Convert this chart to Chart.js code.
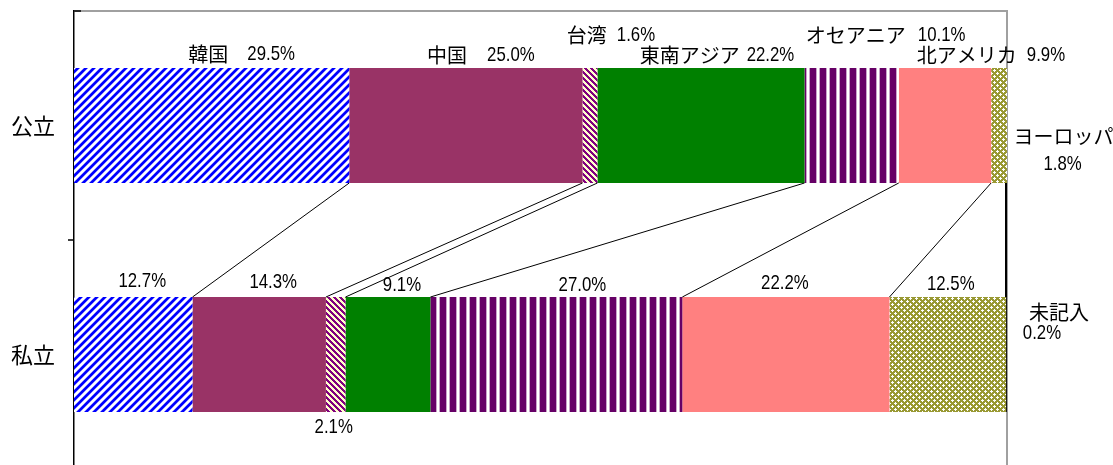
<!DOCTYPE html>
<html>
<head>
<meta charset="utf-8">
<script src="https://cdn.jsdelivr.net/npm/chart.js@4.4.0/dist/chart.umd.min.js"></script>
<style>
  html, body { margin: 0; padding: 0; background: #fff; overflow: hidden; }
  #caixa { width: 1113px; height: 470px; position: relative; }
</style>
</head>
<body>
<div id="caixa"><canvas id="grafico"></canvas></div>
<script>
const escolas = ["公立", "私立"];
const regioes = ["韓国", "中国", "台湾", "東南アジア", "オセアニア", "北アメリカ", "ヨーロッパ", "未記入"];
const koritsu = [29.5, 25.0, 1.6, 22.2, 10.1, 9.9, 1.8, 0];
const shiritsu = [12.7, 14.3, 2.1, 9.1, 27.0, 22.2, 12.5, 0.2];

// where each label sits, relative to (segment centre, bar top)
const posKoritsu = [
  { dx: 30, dy: -14, gap: 19 },
  { dx: 15, dy: -13, gap: 20 },
  { dx: 21, dy: -33, gap: 10 },
  { dx: 16, dy: -13, gap: 7 },
  { dx: 34, dy: -33, gap: 12 },
  { dx: 46, dy: -13, gap: 10 },
  { dx: 64, dy: 68, dx2: 63, dy2: 96 },
  null,
];
const posShiritsu = [
  { dx: 9, dy: -16 },
  { dx: 14, dy: -15 },
  { dx: -2, dy: 130 },
  { dx: 14, dy: -12 },
  { dx: 26, dy: -12 },
  { dx: -1, dy: -14 },
  { dx: 3, dy: -13 },
  { dx: 52, dy: 15, dx2: 35, dy2: 36 },
];

const fontJp = "20px 'Noto Sans CJK JP', sans-serif";
const fontNum = "21px 'Liberation Sans', Arial, sans-serif";
const estreito = 0.8;

const canvas = document.getElementById("grafico");
const ctx = canvas.getContext("2d");

function padrao(w, h, corDoPixel) {
  const c = document.createElement("canvas");
  c.width = w;
  c.height = h;
  const g = c.getContext("2d");
  for (let y = 0; y < h; y++) {
    for (let x = 0; x < w; x++) {
      g.fillStyle = corDoPixel(x, y);
      g.fillRect(x, y, 1, 1);
    }
  }
  return ctx.createPattern(c, "repeat");
}

const listraAzul = padrao(8, 8, (x, y) => {
  const k = (x + y) % 8;
  if (k < 3) return "#0000ff";
  if (k === 3 || k === 7) return "#8c8cff";
  return "#ffffff";
});

const listraTaiwan = padrao(6, 6, (x, y) => {
  const k = (((x - y) % 6) + 6) % 6;
  if (k < 3) return "#800080";
  return "#ffffcc";
});

const listraVertical = padrao(10, 2, (x) => {
  if (x < 6) return "#660066";
  if (x === 6 || x === 9) return "#c9a3c9";
  return "#ffffff";
});

const xadrezOliva = padrao(6, 6, (x, y) => {
  const cruz = (cx, cy) =>
    (y === cy && Math.abs(x - cx) <= 1) || (x === cx && Math.abs(y - cy) <= 1);
  if (cruz(1, 1) || cruz(4, 4)) return "#ffffff";
  return "#999933";
});

const cores = [listraAzul, "#993366", listraTaiwan, "#008000", listraVertical, "#ff8080", xadrezOliva, "#000000"];

const datasets = regioes.map((nome, i) => ({
  label: nome,
  data: [koritsu[i], shiritsu[i]],
  backgroundColor: cores[i],
  borderWidth: 0,
  barPercentage: 0.502,
  categoryPercentage: 1,
}));

function larguraNum(c, txt) {
  c.font = fontNum;
  return c.measureText(txt).width * estreito;
}

function escreveNum(c, txt, x, y) {
  // x = left edge
  c.save();
  c.font = fontNum;
  c.textAlign = "left";
  c.translate(x, y);
  c.scale(estreito, 1);
  c.fillText(txt, 0, 0);
  c.restore();
}

function escreveNumCentro(c, txt, cx, y) {
  escreveNum(c, txt, cx - larguraNum(c, txt) / 2, y);
}

function textoDuplo(c, nome, valor, cx, cy, gap) {
  c.font = fontJp;
  const w1 = c.measureText(nome).width;
  const w2 = larguraNum(c, valor);
  const x0 = cx - (w1 + gap + w2) / 2;
  c.textAlign = "left";
  c.font = fontJp;
  c.fillText(nome, x0, cy);
  escreveNum(c, valor, x0 + w1 + gap, cy);
}

const pluginExtras = {
  id: "extras",
  beforeDatasetsDraw(chart) {
    const c = chart.ctx;
    const a = chart.chartArea;
    c.save();
    c.strokeStyle = "#a0a0a0";
    c.lineWidth = 2;
    c.beginPath();
    c.moveTo(a.left, a.top);
    c.lineTo(a.right, a.top);
    c.lineTo(a.right, a.bottom + 5);
    c.stroke();
    c.restore();
  },
  afterDatasetsDraw(chart) {
    const c = chart.ctx;
    const a = chart.chartArea;
    c.save();
    // series lines between the two bars
    c.strokeStyle = "#000";
    for (let i = 0; i < regioes.length - 1; i++) {
      const m = chart.getDatasetMeta(i).data;
      const top = m[0];
      const bot = m[1];
      const x1 = Math.min(top.x, a.right - 1);
      const x2 = Math.min(bot.x, a.right - 1);
      c.lineWidth = i === regioes.length - 2 ? 2 : 1;
      c.beginPath();
      c.moveTo(x1, top.y + top.height / 2);
      c.lineTo(x2, bot.y - bot.height / 2);
      c.stroke();
    }
    // left axis tick + top stub
    const ys = chart.scales.y;
    const meio = (ys.getPixelForTick(0) + ys.getPixelForTick(1)) / 2;
    c.lineWidth = 1.5;
    c.beginPath();
    c.moveTo(a.left - 6, meio);
    c.lineTo(a.left, meio);
    c.moveTo(a.left, a.top);
    c.lineTo(a.left + 7, a.top);
    c.stroke();

    // labels
    c.fillStyle = "#000";
    c.textBaseline = "middle";
    [posKoritsu, posShiritsu].forEach((posicoes, j) => {
      posicoes.forEach((p, i) => {
        if (!p) return;
        const el = chart.getDatasetMeta(i).data[j];
        const cx = (el.x + el.base) / 2;
        const topo = el.y - el.height / 2;
        const valor = (j === 0 ? koritsu[i] : shiritsu[i]).toFixed(1) + "%";
        if (p.dy2 !== undefined) {
          c.font = fontJp;
          c.textAlign = "center";
          c.fillText(regioes[i], cx + p.dx, topo + p.dy);
          escreveNumCentro(c, valor, cx + p.dx2, topo + p.dy2);
        } else if (j === 0) {
          textoDuplo(c, regioes[i], valor, cx + p.dx, topo + p.dy, p.gap);
        } else {
          escreveNumCentro(c, valor, cx + p.dx, topo + p.dy);
        }
      });
    });
    c.restore();
  },
};

new Chart(canvas, {
  type: "bar",
  data: { labels: escolas, datasets: datasets },
  options: {
    indexAxis: "y",
    responsive: true,
    maintainAspectRatio: false,
    animation: false,
    devicePixelRatio: 1,
    layout: { padding: { top: 11, right: 106, bottom: 1, left: 0 } },
    scales: {
      x: {
        stacked: true,
        min: 0,
        max: 100,
        display: false,
      },
      y: {
        stacked: true,
        grid: { display: false },
        border: { color: "#000", width: 1.5 },
        ticks: {
          color: "#000",
          padding: 11,
          font: { family: "'Noto Sans CJK JP', sans-serif", size: 22 },
        },
        afterFit(scale) {
          scale.width = 74;
          scale.paddingTop = 0;
          scale.paddingBottom = 0;
        },
      },
    },
    plugins: {
      legend: { display: false },
      tooltip: { enabled: false },
    },
  },
  plugins: [pluginExtras],
});
</script>
</body>
</html>
